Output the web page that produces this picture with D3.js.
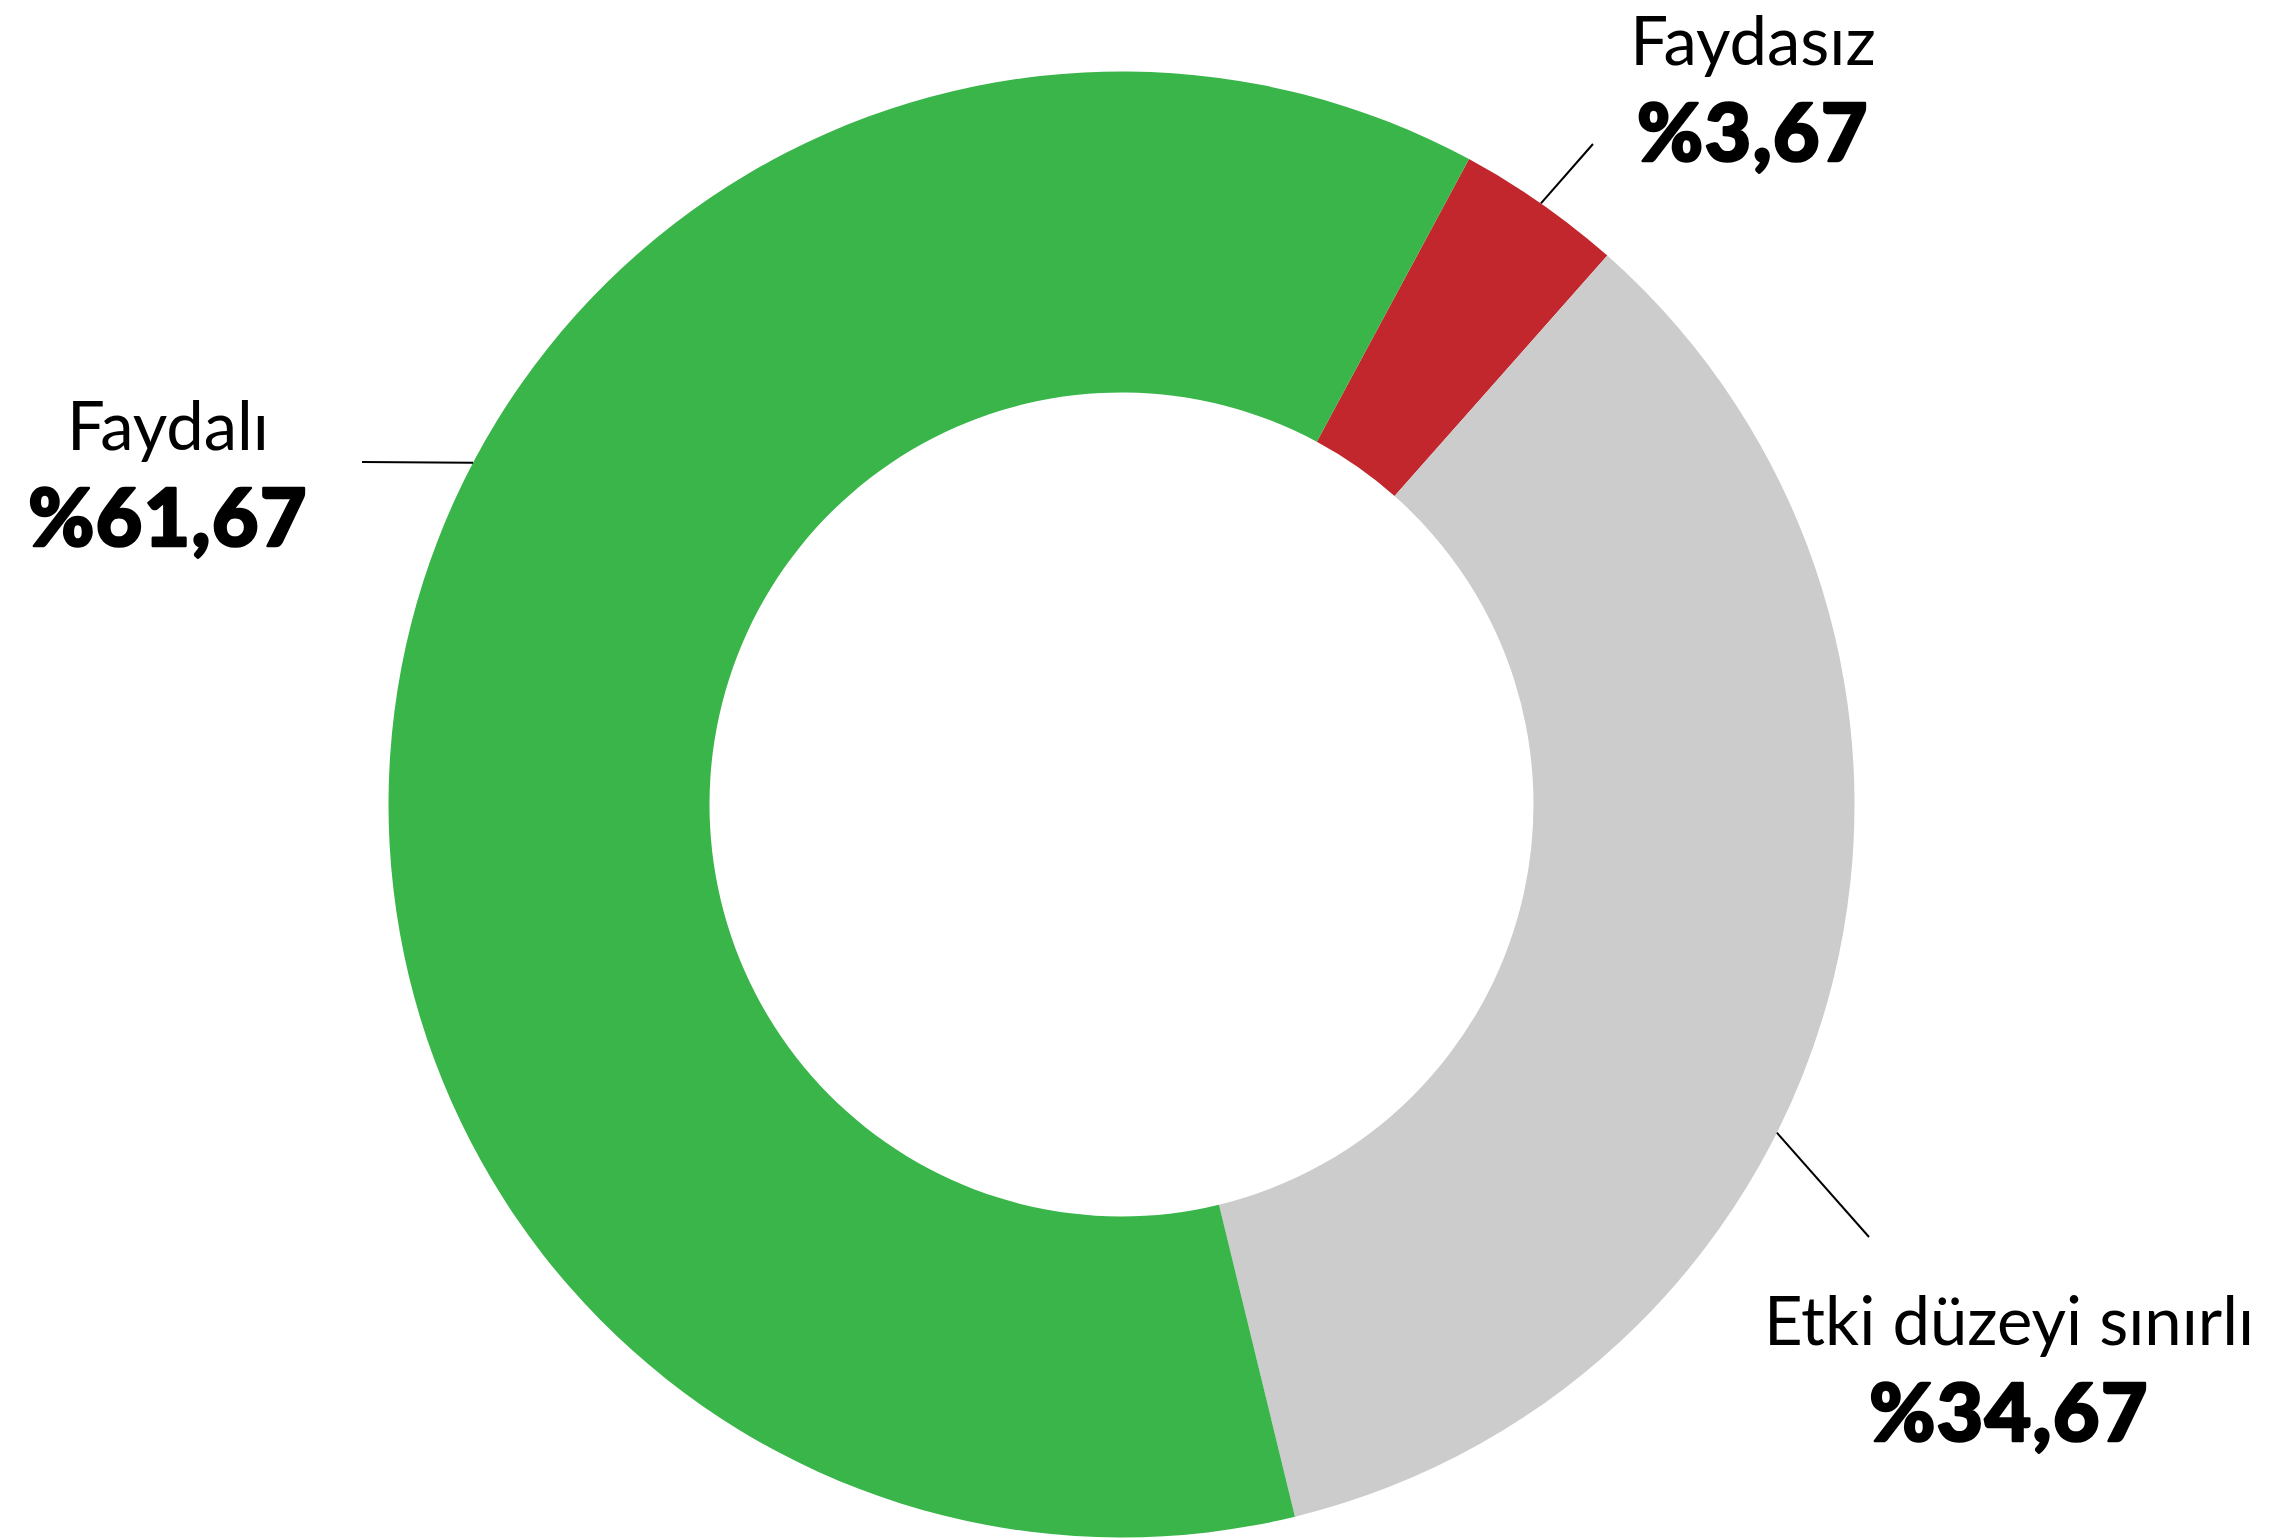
<!DOCTYPE html>
<html lang="tr">
<head>
<meta charset="utf-8">
<title>Faydalı / Faydasız / Etki düzeyi sınırlı</title>
<script src="https://cdn.jsdelivr.net/npm/d3@7"></script>
<style>
  html, body { margin: 0; padding: 0; background: #ffffff; }
  svg { display: block; }
  .cat { font-family: Lato, "Open Sans", sans-serif; font-weight: 400; fill: #000; }
  .pct { font-family: Lato, "Open Sans", sans-serif; font-weight: 900; fill: #000;
         stroke: #000; stroke-width: 2.6; stroke-linejoin: round; letter-spacing: 1.5px; }
</style>
</head>
<body>
<svg id="chart" width="2273" height="1540"></svg>
<script>
// Categories and their shares (percent), in clockwise drawing order
const categories = ["Faydasız", "Etki düzeyi sınırlı", "Faydalı"];
const values = [3.67, 34.67, 61.67];
const valueLabels = ["%3,67", "%34,67", "%61,67"];
const colors = ["#C1272D", "#CCCCCC", "#39B54A"];

// Ring geometry
const W = 2273, H = 1540;
const cx = 1121.5, cy = 804.5;
const outerR = 733, innerR = 412;
const startDeg = 28.3;

// Label placement: angle where the leader touches the ring (null = slice middle),
// leader end point and label text centre (relative to ring centre)
const labelLayout = [
  { angle: null,  end: [471.5, -660.5], text: [631.5, -739.5] },
  { angle: 116.6, end: [747.5, 432.5],  text: [887.5, 540.5] },
  { angle: 297.8, end: [-759.5, -342.5], text: [-953.5, -354.5] }
];

const rad = d => d * Math.PI / 180;
const svg = d3.select("#chart");
const g = svg.append("g").attr("transform", `translate(${cx},${cy})`);

const pie = d3.pie().sort(null).value(d => d)
  .startAngle(rad(startDeg)).endAngle(rad(startDeg) + 2 * Math.PI);
const arcs = pie(values);
const arc = d3.arc().innerRadius(innerR).outerRadius(outerR);

g.selectAll("path.slice")
  .data(arcs)
  .join("path")
  .attr("class", "slice")
  .attr("d", arc)
  .attr("fill", (d, i) => colors[i]);

// Leader lines
const polar = (a, r) => [r * Math.sin(a), -r * Math.cos(a)];
arcs.forEach((d, i) => {
  const L = labelLayout[i];
  const a = L.angle === null ? (d.startAngle + d.endAngle) / 2 : rad(L.angle);
  const p = polar(a, outerR);
  g.append("line")
    .attr("x1", p[0]).attr("y1", p[1])
    .attr("x2", L.end[0]).attr("y2", L.end[1])
    .attr("stroke", "#000").attr("stroke-width", 2);
});

// Category names and percentages
categories.forEach((c, i) => {
  const L = labelLayout[i];
  g.append("text").attr("class", "cat")
    .attr("x", L.text[0]).attr("y", L.text[1])
    .attr("text-anchor", "middle")
    .attr("font-size", 67)
    .text(c);
  g.append("text").attr("class", "pct")
    .attr("x", L.text[0]).attr("y", L.text[1] + 96)
    .attr("text-anchor", "middle")
    .attr("font-size", 80)
    .text(valueLabels[i]);
});
</script>
</body>
</html>
